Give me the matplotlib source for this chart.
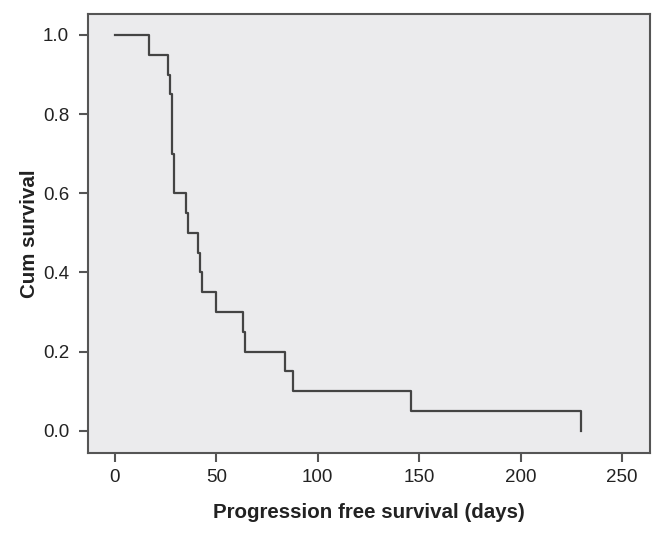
import matplotlib
matplotlib.use('Agg')
import matplotlib.pyplot as plt

plt.rcParams['font.family'] = ['Liberation Sans', 'DejaVu Sans']
plt.rcParams['xtick.direction'] = 'out'
plt.rcParams['ytick.direction'] = 'out'

# Kaplan-Meier steps
days = [0, 17, 26, 27, 28, 29, 35, 36, 41, 42, 43, 50, 63, 64, 84, 88, 146, 230]
cum_survival = [1.0, 0.95, 0.90, 0.85, 0.70, 0.60, 0.55, 0.50, 0.45, 0.40,
                0.35, 0.30, 0.25, 0.20, 0.15, 0.10, 0.05, 0.0]
xticks = [0, 50, 100, 150, 200, 250]
yticks = [0.0, 0.2, 0.4, 0.6, 0.8, 1.0]

fig = plt.figure(figsize=(6.63, 5.33), dpi=100)
ax = fig.add_axes([88/663, 80/533, 562/663, 439/533])
ax.set_facecolor('#ebebed')

ax.step(days, cum_survival, where='post', color='#444444', linewidth=1.6)

ax.set_xlim(-13.3, 263.8)
ax.set_ylim(-0.056, 1.053)
ax.set_xticks(xticks)
ax.set_xticklabels([str(t) for t in xticks])
ax.set_yticks(yticks)
ax.set_yticklabels(['%.1f' % t for t in yticks])

for sp in ax.spines.values():
    sp.set_color('#555555')
    sp.set_linewidth(1.5)
ax.tick_params(length=6.5, width=1.5, color='#555555', labelsize=13.5,
               labelcolor='#222222')
ax.tick_params(axis='x', pad=5)
ax.tick_params(axis='y', pad=7)

ax.set_xlabel('Progression free survival (days)', fontsize=14.8, fontweight='bold',
              color='#222222', labelpad=12)
ax.set_ylabel('Cum survival', fontsize=14.8, fontweight='bold',
              color='#222222', labelpad=3)

fig.savefig('out.png', dpi=100)
